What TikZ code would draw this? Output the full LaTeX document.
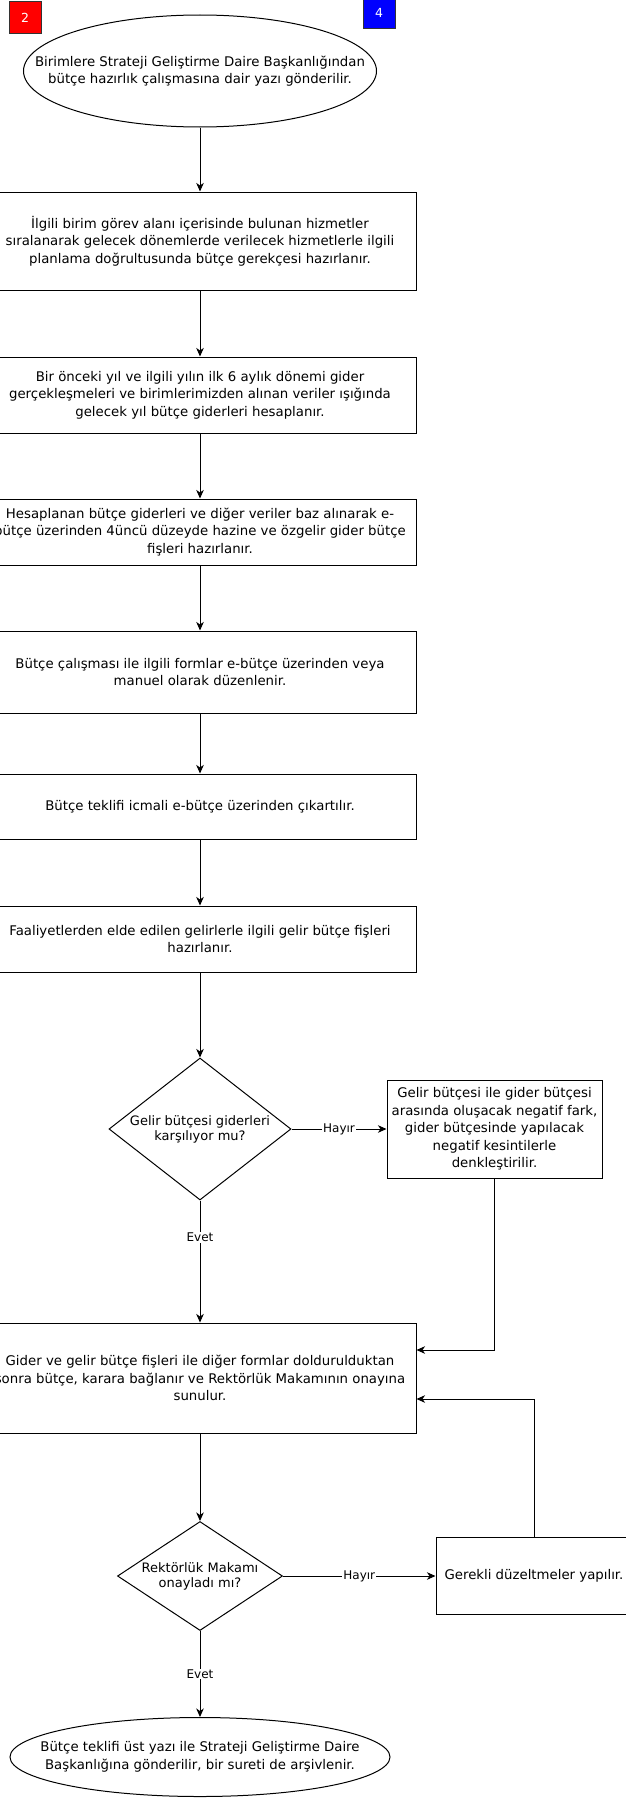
\documentclass[tikz,border=0pt]{standalone}
\usepackage{fontspec}
\setmainfont{DejaVu Sans}
\usetikzlibrary{shapes.geometric,arrows.meta}
\tikzset{box/.style={draw, rectangle, align=center, minimum width=432pt, inner sep=0pt, font=\fontsize{13.3}{17.5}\selectfont}}
\tikzset{term/.style={draw, ellipse, align=center, inner xsep=-50pt, inner ysep=0pt, font=\fontsize{13.3}{17.5}\selectfont}}
\tikzset{ask/.style={draw, diamond, aspect=1.6, align=center, inner sep=-4pt, font=\fontsize{13}{15}\selectfont}}
\tikzset{tag/.style={draw=black!80, text=white, minimum width=32pt, minimum height=32pt, inner sep=0pt, font=\fontsize{12.5}{14}\selectfont}}
\tikzset{lbl/.style={fill=white, inner sep=1pt, font=\fontsize{12}{14}\selectfont}}
\tikzset{flow/.style={-{Stealth[length=8.5pt,width=7.5pt,inset=2.5pt]}}}

\begin{document}
\begin{tikzpicture}[x=1pt, y=-1pt, line width=1pt]
    \useasboundingbox (0,0) rectangle (626,1801);

    \node (n2) at (25,17.5) [tag, fill=red] {2};
    \node (n4) at (379,13) [tag, fill=blue] {4};

    \node (start) at (200,71) [term, minimum width=353pt, minimum height=112pt]
        {Birimlere Strateji Geliştirme Daire Başkanlığından\\bütçe hazırlık çalışmasına dair yazı gönderilir.};
    \node (b1) at (200,241) [box, minimum height=98pt]
        {İlgili birim görev alanı içerisinde bulunan hizmetler\\sıralanarak gelecek dönemlerde verilecek hizmetlerle ilgili\\planlama doğrultusunda bütçe gerekçesi hazırlanır.};
    \node (b2) at (200,395) [box, minimum height=76pt]
        {Bir önceki yıl ve ilgili yılın ilk 6 aylık dönemi gider\\gerçekleşmeleri ve birimlerimizden alınan veriler ışığında\\gelecek yıl bütçe giderleri hesaplanır.};
    \node (b3) at (200,532) [box, minimum height=66pt]
        {Hesaplanan bütçe giderleri ve diğer veriler baz alınarak e-\\bütçe üzerinden 4üncü düzeyde hazine ve özgelir gider bütçe\\fişleri hazırlanır.};
    \node (b4) at (200,672) [box, minimum height=82pt]
        {Bütçe çalışması ile ilgili formlar e-bütçe üzerinden veya\\manuel olarak düzenlenir.};
    \node (b5) at (200,806.5) [box, minimum height=65pt]
        {Bütçe teklifi icmali e-bütçe üzerinden çıkartılır.};
    \node (b6) at (200,939) [box, minimum height=66pt]
        {Faaliyetlerden elde edilen gelirlerle ilgili gelir bütçe fişleri\\hazırlanır.};

    \node (d1) at (200,1129) [ask, minimum width=182pt, minimum height=142pt]
        {Gelir bütçesi giderleri\\karşılıyor mu?};
    \node (side) at (494.5,1129) [box, minimum width=215pt, minimum height=98pt]
        {Gelir bütçesi ile gider bütçesi\\arasında oluşacak negatif fark,\\gider bütçesinde yapılacak\\negatif kesintilerle\\denkleştirilir.};
    \node (b7) at (200,1378) [box, minimum height=110pt]
        {Gider ve gelir bütçe fişleri ile diğer formlar doldurulduktan\\sonra bütçe, karara bağlanır ve Rektörlük Makamının onayına\\sunulur.};

    \node (d2) at (200,1576) [ask, minimum width=165pt, minimum height=109pt]
        {Rektörlük Makamı\\onayladı mı?};
    \node (fix) at (534,1576) [box, minimum width=196pt, minimum height=77pt]
        {Gerekli düzeltmeler yapılır.};
    \node (stop) at (200,1757) [term, minimum width=380pt, minimum height=79pt]
        {Bütçe teklifi üst yazı ile Strateji Geliştirme Daire\\Başkanlığına gönderilir, bir sureti de arşivlenir.};

    \draw (start) edge[flow] (b1);
    \draw (b1) edge[flow] (b2);
    \draw (b2) edge[flow] (b3);
    \draw (b3) edge[flow] (b4);
    \draw (b4) edge[flow] (b5);
    \draw (b5) edge[flow] (b6);
    \draw (b6) edge[flow] (d1);
    \draw (d1) edge[flow] node[lbl] {Hayır} (side);
    \draw (d1) edge[flow] node[lbl, pos=0.3] {Evet} (b7);
    \draw[flow] (side) |- ([yshift=28pt]b7.east);
    \draw (b7) edge[flow] (d2);
    \draw (d2) edge[flow] node[lbl] {Hayır} (fix);
    \draw[flow] (fix) |- ([yshift=-21pt]b7.east);
    \draw (d2) edge[flow] node[lbl] {Evet} (stop);
\end{tikzpicture}
\end{document}
